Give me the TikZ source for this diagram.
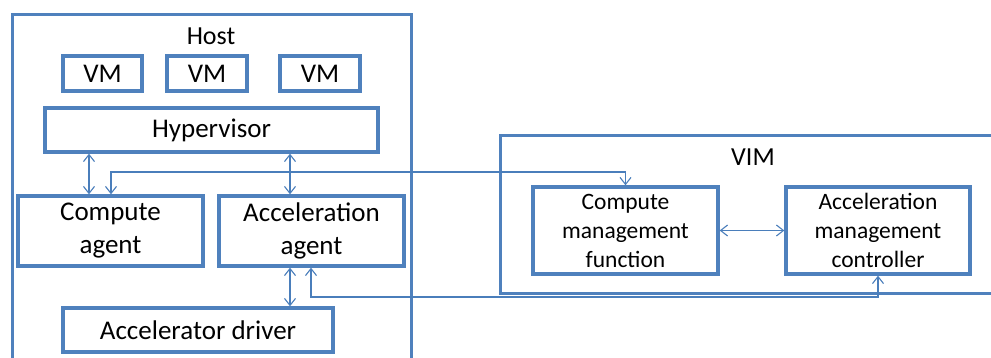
\documentclass[tikz,border=0pt]{standalone}
\usepackage{fontspec}
\setmainfont{Carlito}
\usetikzlibrary{arrows.meta}
\definecolor{boxblue}{HTML}{4F81BD}
\definecolor{lineblue}{HTML}{4A7EBB}
\tikzset{
  frame/.style={draw=boxblue, line width=3.4pt, fill=white},
  box/.style={draw=boxblue, line width=3.4pt, fill=white, inner sep=0pt, align=center,
    font=\fontsize{27}{33}\selectfont},
  vbox/.style={draw=boxblue, line width=3.4pt, fill=white, inner sep=0pt, align=center,
    font=\fontsize{23.5}{29}\selectfont},
  lbl/.style={inner sep=0pt, font=\fontsize{26}{33}\selectfont},
  conn/.style={draw=lineblue, line width=1.1pt,
    {Straight Barb[length=7pt,width=11pt]}-{Straight Barb[length=7pt,width=11pt]}}
}
\begin{document}
\begin{tikzpicture}[x=1pt,y=-1pt]
\useasboundingbox (0,0) rectangle (991,358);
\clip (0,0) rectangle (991,358);
% frames
\node[frame, minimum width=399pt, minimum height=400pt, anchor=north west] (host) at (11,13) {};
\node[frame, minimum width=500pt, minimum height=158pt, anchor=north west] (vim) at (499,134) {};
\node[lbl] (hostlbl) at (211,36) {Host};
\node[lbl] (vimlbl) at (753,157) {VIM};
% host boxes
\node[box, minimum width=79pt, minimum height=35pt] (vm1) at (102.5,73.5) {VM};
\node[box, minimum width=80pt, minimum height=35pt] (vm2) at (207,73.5) {VM};
\node[box, minimum width=80pt, minimum height=35pt] (vm3) at (320,73.5) {VM};
\node[box, minimum width=333pt, minimum height=44pt] (hyp) at (211.5,130) {Hypervisor};
\node[box, minimum width=185pt, minimum height=70pt] (cagent) at (110.5,231) {Compute\\agent};
\node[box, minimum width=185pt, minimum height=70pt] (aagent) at (311.5,231) {Acceleration\\agent};
\node[box, minimum width=270pt, minimum height=44pt] (driver) at (198,330) {Accelerator driver};
% vim boxes
\node[vbox, minimum width=185pt, minimum height=87pt] (cmf) at (625.5,230.5) {Compute\\management\\function};
\node[vbox, minimum width=184pt, minimum height=87pt] (amc) at (878,230.5) {Acceleration\\management\\controller};
% connector guide coordinates
\coordinate (xa) at (89,0);
\coordinate (xb) at (290,0);
\coordinate (xc) at (111,0);
\coordinate (xd) at (311,0);
\coordinate (ytop) at (0,172);
\coordinate (ybot) at (0,297);
% connectors
\draw[conn] (xa |- hyp.south) -- (xa |- cagent.north);
\draw[conn] (xb |- hyp.south) -- (xb |- aagent.north);
\draw[conn] (xb |- aagent.south) -- (xb |- driver.north);
\draw[conn] (cmf.east) -- (amc.west);
\draw[conn] (xc |- cagent.north) -- (xc |- ytop) -| (cmf.north);
\draw[conn] (xd |- aagent.south) -- (xd |- ybot) -| (amc.south);
\end{tikzpicture}
\end{document}
